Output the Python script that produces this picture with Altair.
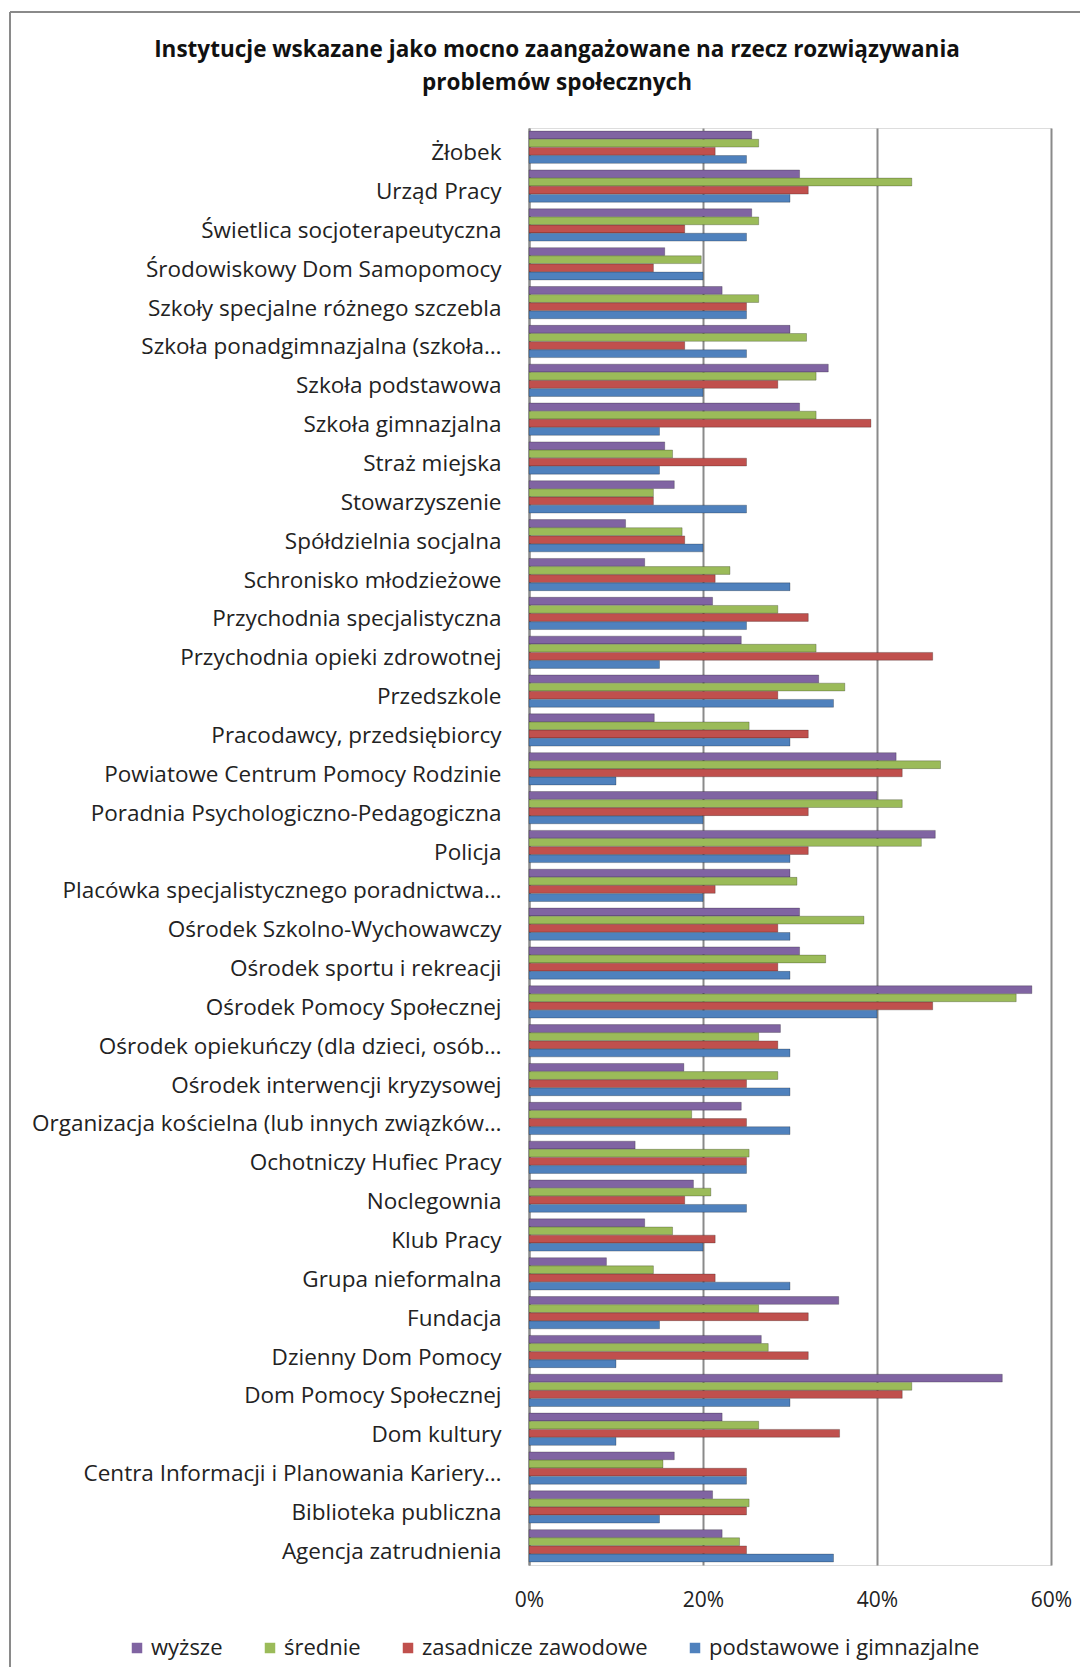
import altair as alt
import pandas as pd

categories = [
    "Żłobek", "Urząd Pracy", "Świetlica socjoterapeutyczna", "Środowiskowy Dom Samopomocy",
    "Szkoły specjalne różnego szczebla", "Szkoła ponadgimnazjalna (szkoła…", "Szkoła podstawowa",
    "Szkoła gimnazjalna", "Straż miejska", "Stowarzyszenie", "Spółdzielnia socjalna",
    "Schronisko młodzieżowe", "Przychodnia specjalistyczna", "Przychodnia opieki zdrowotnej",
    "Przedszkole", "Pracodawcy, przedsiębiorcy", "Powiatowe Centrum Pomocy Rodzinie",
    "Poradnia Psychologiczno-Pedagogiczna", "Policja", "Placówka specjalistycznego poradnictwa…",
    "Ośrodek Szkolno-Wychowawczy", "Ośrodek sportu i rekreacji", "Ośrodek Pomocy Społecznej",
    "Ośrodek opiekuńczy (dla dzieci, osób…", "Ośrodek interwencji kryzysowej",
    "Organizacja kościelna (lub innych związków…", "Ochotniczy Hufiec Pracy", "Noclegownia",
    "Klub Pracy", "Grupa nieformalna", "Fundacja", "Dzienny Dom Pomocy", "Dom Pomocy Społecznej",
    "Dom kultury", "Centra Informacji i Planowania Kariery…", "Biblioteka publiczna",
    "Agencja zatrudnienia",
]

series = ["wyższe", "średnie", "zasadnicze zawodowe", "podstawowe i gimnazjalne"]
colors = ["#8064A2", "#9BBB59", "#C0504D", "#4F81BD"]

wyzsze = [25.6, 31.1, 25.6, 15.6, 22.2, 30.0, 34.4, 31.1, 15.6, 16.7, 11.1, 13.3, 21.1, 24.4,
          33.3, 14.4, 42.2, 40.0, 46.7, 30.0, 31.1, 31.1, 57.8, 28.9, 17.8, 24.4, 12.2, 18.9,
          13.3, 8.9, 35.6, 26.7, 54.4, 22.2, 16.7, 21.1, 22.2]
srednie = [26.4, 44.0, 26.4, 19.8, 26.4, 31.9, 33.0, 33.0, 16.5, 14.3, 17.6, 23.1, 28.6, 33.0,
           36.3, 25.3, 47.3, 42.9, 45.1, 30.8, 38.5, 34.1, 56.0, 26.4, 28.6, 18.7, 25.3, 20.9,
           16.5, 14.3, 26.4, 27.5, 44.0, 26.4, 15.4, 25.3, 24.2]
zasadnicze = [21.4, 32.1, 17.9, 14.3, 25.0, 17.9, 28.6, 39.3, 25.0, 14.3, 17.9, 21.4, 32.1, 46.4,
              28.6, 32.1, 42.9, 32.1, 32.1, 21.4, 28.6, 28.6, 46.4, 28.6, 25.0, 25.0, 25.0, 17.9,
              21.4, 21.4, 32.1, 32.1, 42.9, 35.7, 25.0, 25.0, 25.0]
podstawowe = [25, 30, 25, 20, 25, 25, 20, 15, 15, 25, 20, 30, 25, 15, 35, 30, 10, 20, 30, 20,
              30, 30, 40, 30, 30, 30, 25, 25, 20, 30, 15, 10, 30, 10, 25, 15, 35]

x_ticks = [0, 0.2, 0.4, 0.6]

rows = []
for i, c in enumerate(categories):
    for s, vals in zip(series, [wyzsze, srednie, zasadnicze, podstawowe]):
        rows.append({"kat": c, "seria": s, "v": vals[i] / 100})
df = pd.DataFrame(rows)

FONT = "Open Sans"
TXT = "#222222"

bars = alt.Chart(df).mark_bar(stroke="#000000", strokeOpacity=0.3, strokeWidth=0.8).encode(
    y=alt.Y("kat:N", sort=categories,
            scale=alt.Scale(paddingInner=0.17, paddingOuter=0.08),
            axis=alt.Axis(title=None, ticks=False, labelPadding=28, labelFont=FONT,
                          labelFontSize=22.5, labelColor=TXT, domainColor="#8a8a8a",
                          domainWidth=2, labelLimit=700, labelOffset=6)),
    yOffset=alt.YOffset("seria:N", sort=series, scale=alt.Scale(paddingInner=0.04)),
    x=alt.X("v:Q", scale=alt.Scale(domain=[0, 0.6]),
            axis=alt.Axis(values=x_ticks, format=".0%", title=None, grid=True,
                          gridColor="#8a8a8a", gridWidth=2, domain=False, ticks=False,
                          labelFont=FONT, labelFontSize=21, labelColor=TXT,
                          labelPadding=24, labelFlush=False)),
    color=alt.Color("seria:N", sort=series,
                    scale=alt.Scale(domain=series, range=colors),
                    legend=alt.Legend(orient="none", legendX=-403, legendY=1509,
                                      direction="horizontal", title=None, symbolType="square",
                                      symbolSize=110, symbolStrokeWidth=0, labelFont=FONT,
                                      labelFontSize=22, labelColor=TXT, labelLimit=500,
                                      columnPadding=36, labelOffset=3)),
)

one = pd.DataFrame({"a": [0]})
frame_top = alt.Chart(one).mark_rule(color="#8a8a8a", strokeWidth=2).encode(
    x=alt.value(-519), x2=alt.value(600), y=alt.value(-116))
frame_left = alt.Chart(one).mark_rule(color="#8a8a8a", strokeWidth=2).encode(
    x=alt.value(-519), y=alt.value(-116), y2=alt.value(1600))

chart = alt.layer(frame_top, frame_left, bars).properties(
    width=522,
    height=1437,
    autosize="none",
    padding={"left": 521, "top": 120, "right": 29, "bottom": 102},
    title=alt.Title(
        ["Instytucje wskazane jako mocno zaangażowane na rzecz rozwiązywania",
         "problemów społecznych"],
        font=FONT, fontSize=22.5, fontWeight="bold", color="#111111",
        anchor="middle", dx=-233, offset=-83, lineHeight=33),
).configure_view(stroke=None).configure(background="white")

chart.save("out.html", embed_options={"renderer": "svg", "actions": False})
